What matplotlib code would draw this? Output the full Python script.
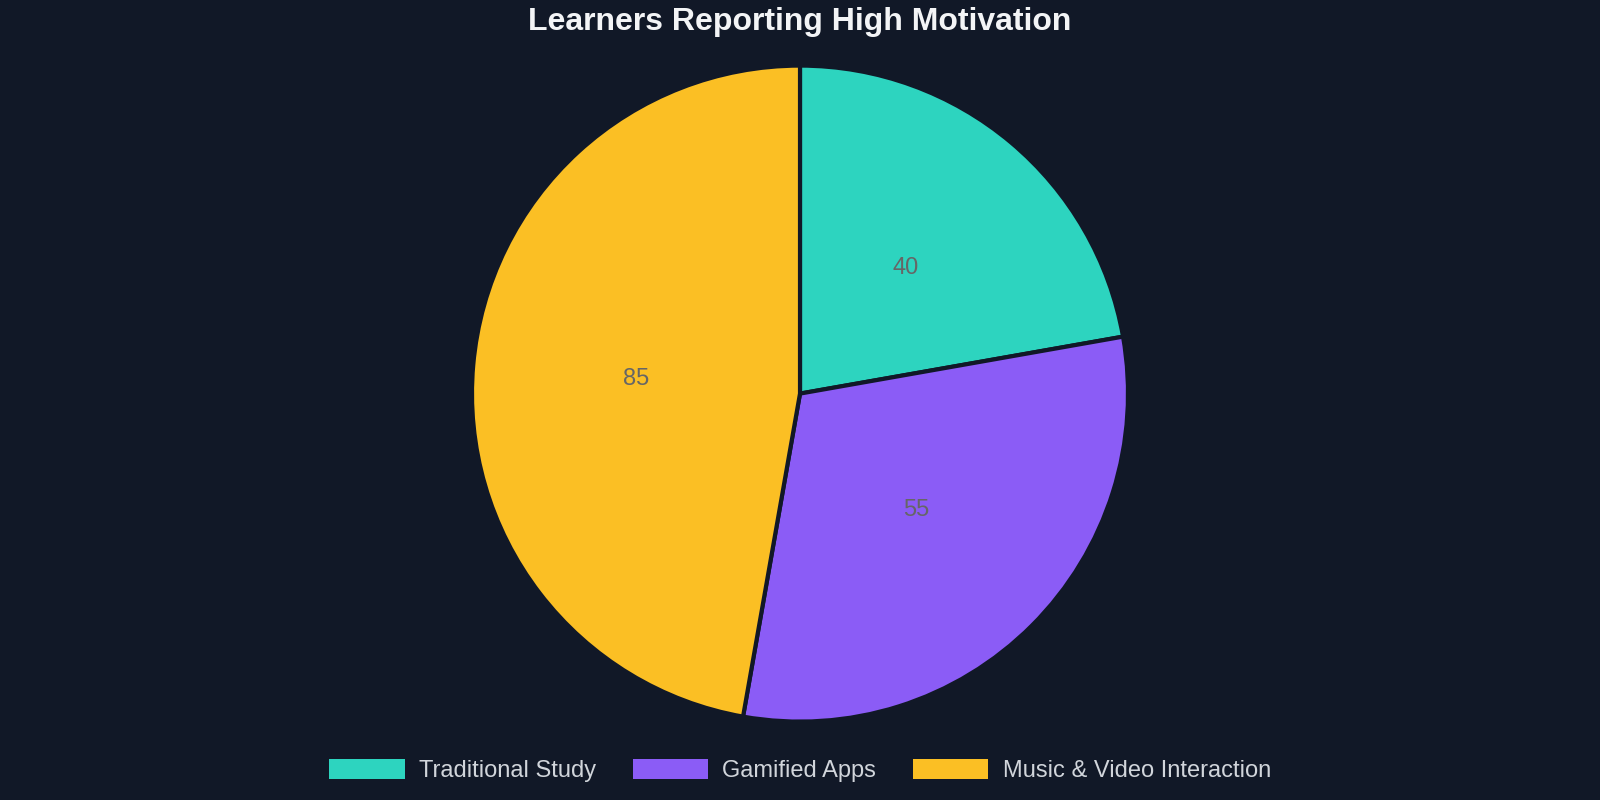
import matplotlib
matplotlib.use("Agg")
import matplotlib.pyplot as plt

# chart data
categories = ["Traditional Study", "Gamified Apps", "Music & Video Interaction"]
values = [40, 55, 85]
colors = ["#2dd4bf", "#8b5cf6", "#fbbf24"]
title = "Learners Reporting High Motivation"

bg = "#111827"
plt.rcParams["font.family"] = ["Liberation Sans", "DejaVu Sans"]

fig = plt.figure(figsize=(16, 8), dpi=100, facecolor=bg)

# square axes around the pie, center ~ (0.5, 0.509), radius ~328 px
lim = 1.1
r_px = 328
side = 2 * r_px * lim
cx, cy = 0.5, 0.508
ax = fig.add_axes([cx - side / 2 / 1600, cy - side / 2 / 800, side / 1600, side / 800])
ax.set_facecolor(bg)

wedges, texts, autotexts = ax.pie(
    values,
    colors=colors,
    startangle=90,
    counterclock=False,
    autopct=lambda p: f"{round(p * sum(values) / 100):d}",
    pctdistance=0.5,
    wedgeprops=dict(edgecolor=bg, linewidth=3),
    textprops=dict(color="#666666", fontsize=17),
)
ax.set_xlim(-lim, lim)
ax.set_ylim(-lim, lim)
ax.set_aspect("equal")
ax.axis("off")

fig.text(0.5, 0.973, title, ha="center", va="center", color="#f3f4f6",
         fontsize=23, fontweight="bold")

leg = fig.legend(
    wedges, categories,
    loc="center", bbox_to_anchor=(0.5, 0.037), ncol=3, frameon=False,
    fontsize=17, handlelength=3.2, handleheight=0.95, handletextpad=0.6,
    columnspacing=1.55,
)
for t in leg.get_texts():
    t.set_color("#d1d5db")
for h in leg.legend_handles:
    h.set_linewidth(0)

fig.savefig("out.png", dpi=100, facecolor=bg)
